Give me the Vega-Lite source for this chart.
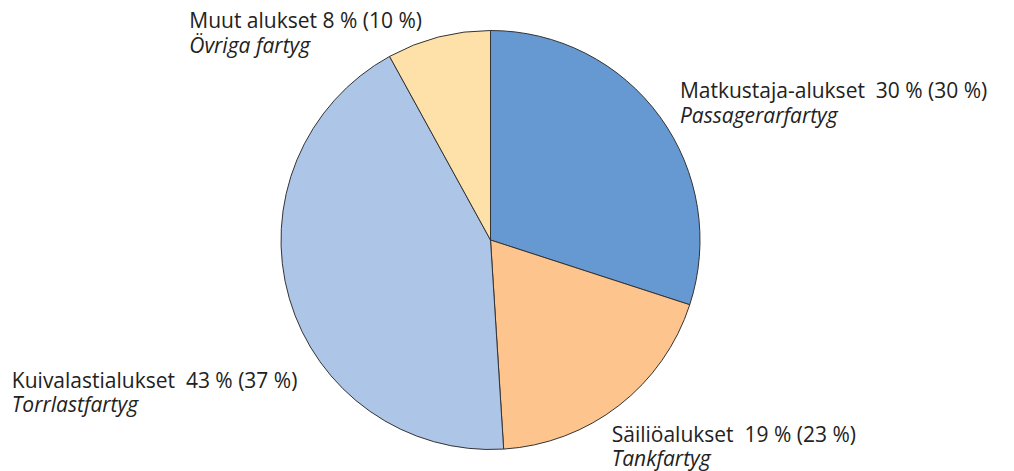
{
  "$schema": "https://vega.github.io/schema/vega-lite/v6.json",
  "width": 981,
  "height": 462,
  "autosize": {"type": "none"},
  "padding": {"left": 0, "top": 9, "right": 33, "bottom": 0},
  "background": "white",
  "config": {"view": {"stroke": null}, "text": {"font": "Open Sans", "fontSize": 21, "color": "#222222"}},
  "data": {
    "values": [
      {"type": "Matkustaja-alukset", "share": 30, "prev": 30, "line1": "Matkustaja-alukset\u00a0 30 % (30 %)", "line2": "Passagerarfartyg"},
      {"type": "Säiliöalukset", "share": 19, "prev": 23, "line1": "Säiliöalukset\u00a0 19 % (23 %)", "line2": "Tankfartyg"},
      {"type": "Kuivalastialukset", "share": 43, "prev": 37, "line1": "Kuivalastialukset\u00a0 43 % (37 %)", "line2": "Torrlastfartyg"},
      {"type": "Muut alukset", "share": 8, "prev": 10, "line1": "Muut alukset 8 % (10 %)", "line2": "Övriga fartyg"}
    ]
  },
  "transform": [{"window": [{"op": "row_number", "as": "idx"}]}],
  "encoding": {
    "theta": {"field": "share", "type": "quantitative", "stack": true},
    "order": {"field": "idx", "type": "quantitative"}
  },
  "layer": [
    {
      "mark": {"type": "arc", "outerRadius": 209.5, "stroke": "#333333", "strokeWidth": 1},
      "encoding": {
        "color": {
          "field": "type", "type": "nominal", "legend": null,
          "scale": {
            "domain": ["Matkustaja-alukset", "Säiliöalukset", "Kuivalastialukset", "Muut alukset"],
            "range": ["#6699d2", "#fdc48e", "#adc6e8", "#fee0a9"]
          }
        }
      }
    },
    {
      "mark": {"type": "text", "radius": 210, "align": "left", "baseline": "alphabetic", "dx": 19.5, "dy": -19},
      "encoding": {"text": {"condition": {"test": "datum.type === 'Matkustaja-alukset'", "field": "line1"}, "value": ""}}
    },
    {
      "mark": {"type": "text", "radius": 210, "align": "left", "baseline": "alphabetic", "fontStyle": "italic", "dx": 19.5, "dy": 6.5},
      "encoding": {"text": {"condition": {"test": "datum.type === 'Matkustaja-alukset'", "field": "line2"}, "value": ""}}
    },
    {
      "mark": {"type": "text", "radius": 210, "align": "left", "baseline": "alphabetic", "dx": -7.5, "dy": 36},
      "encoding": {"text": {"condition": {"test": "datum.type === 'Säiliöalukset'", "field": "line1"}, "value": ""}}
    },
    {
      "mark": {"type": "text", "radius": 210, "align": "left", "baseline": "alphabetic", "fontStyle": "italic", "dx": -7.5, "dy": 60},
      "encoding": {"text": {"condition": {"test": "datum.type === 'Säiliöalukset'", "field": "line2"}, "value": ""}}
    },
    {
      "mark": {"type": "text", "radius": 210, "align": "left", "baseline": "alphabetic", "dx": -277, "dy": 89},
      "encoding": {"text": {"condition": {"test": "datum.type === 'Kuivalastialukset'", "field": "line1"}, "value": ""}}
    },
    {
      "mark": {"type": "text", "radius": 210, "align": "left", "baseline": "alphabetic", "fontStyle": "italic", "dx": -277, "dy": 113},
      "encoding": {"text": {"condition": {"test": "datum.type === 'Kuivalastialukset'", "field": "line2"}, "value": ""}}
    },
    {
      "mark": {"type": "text", "radius": 210, "align": "left", "baseline": "alphabetic", "dx": -249, "dy": -8.5},
      "encoding": {"text": {"condition": {"test": "datum.type === 'Muut alukset'", "field": "line1"}, "value": ""}}
    },
    {
      "mark": {"type": "text", "radius": 210, "align": "left", "baseline": "alphabetic", "fontStyle": "italic", "dx": -249, "dy": 16.5},
      "encoding": {"text": {"condition": {"test": "datum.type === 'Muut alukset'", "field": "line2"}, "value": ""}}
    }
  ]
}
